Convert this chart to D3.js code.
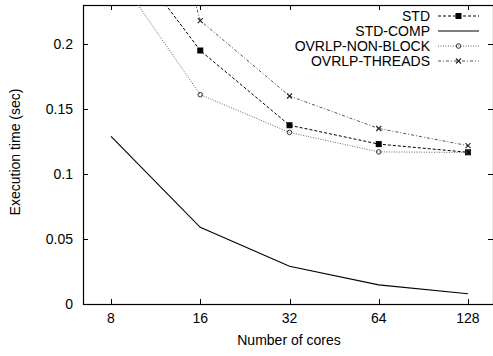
<!DOCTYPE html>
<html lang="en">
<head>
<meta charset="UTF-8">
<title>Execution time vs cores</title>
<style>
  body { margin: 0; background: #fff; }
  svg { display: block; font-family: "Liberation Sans", Arial, sans-serif; }
</style>
</head>
<body>
<div id="chart"></div>
<script src="https://d3js.org/d3.v7.min.js"></script>
<script>
// data
const cores = [8, 16, 32, 64, 128];
const stdVals = [0.286, 0.195, 0.1375, 0.123, 0.1167];
const stdCompVals = [0.129, 0.059, 0.029, 0.0147, 0.0079];
const nonBlockVals = [0.26, 0.161, 0.132, 0.117, 0.1166];
const threadsVals = [0.457, 0.218, 0.160, 0.135, 0.1218];
const yTicks = [0, 0.05, 0.1, 0.15, 0.2];
const yTickLabels = ["0", "0.05", "0.1", "0.15", "0.2"];

const series = [
  { name: "STD", values: stdVals, color: "#000", dash: "3,2", width: 1, marker: "square" },
  { name: "STD-COMP", values: stdCompVals, color: "#000", dash: null, width: 1.1, marker: null },
  { name: "OVRLP-NON-BLOCK", values: nonBlockVals, color: "#666", dash: "1,1.5", width: 1, marker: "circle" },
  { name: "OVRLP-THREADS", values: threadsVals, color: "#555", dash: "3,2,1,2", width: 1, marker: "cross" }
];

const width = 493, height = 356;
const plot = { left: 83, right: 493, top: 5, bottom: 304 };
const fontSize = 14;

const svg = d3.select("#chart").append("svg")
    .attr("width", width)
    .attr("height", height);

// x is log2, 89.2px per octave, 8 sits at x=111
const x = d3.scaleLog().base(2)
    .domain([Math.pow(2, 3 - 28 / 89.2), Math.pow(2, 7 + 25 / 89.2)])
    .range([plot.left, plot.right]);

const y = d3.scaleLinear()
    .domain([0, 0.23])
    .range([plot.bottom, plot.top]);

svg.append("clipPath").attr("id", "clip")
  .append("rect")
    .attr("x", plot.left).attr("y", plot.top)
    .attr("width", plot.right - plot.left).attr("height", plot.bottom - plot.top);

// ticks (inward, mirrored)
const tickLen = 5;
const ticks = svg.append("g").attr("stroke", "#000").attr("stroke-width", 1);
yTicks.forEach(v => {
  const yy = Math.round(y(v)) + 0.5;
  ticks.append("line").attr("x1", plot.left).attr("x2", plot.left + tickLen).attr("y1", yy).attr("y2", yy);
  ticks.append("line").attr("x1", plot.right - tickLen).attr("x2", plot.right).attr("y1", yy).attr("y2", yy);
});
cores.forEach(c => {
  const xx = Math.round(x(c)) + 0.5;
  ticks.append("line").attr("x1", xx).attr("x2", xx).attr("y1", plot.bottom).attr("y2", plot.bottom - tickLen);
  ticks.append("line").attr("x1", xx).attr("x2", xx).attr("y1", plot.top).attr("y2", plot.top + tickLen);
});

// border
svg.append("rect")
    .attr("x", plot.left + 0.5).attr("y", plot.top + 0.5)
    .attr("width", plot.right - plot.left).attr("height", plot.bottom - plot.top)
    .attr("fill", "none").attr("stroke", "#000").attr("stroke-width", 1.2);

// tick labels
svg.append("g").selectAll("text")
  .data(yTicks)
  .enter().append("text")
    .attr("x", plot.left - 10)
    .attr("y", d => y(d))
    .attr("dy", "0.35em")
    .attr("text-anchor", "end")
    .attr("font-size", fontSize)
    .text((d, i) => yTickLabels[i]);

svg.append("g").selectAll("text")
  .data(cores)
  .enter().append("text")
    .attr("x", d => x(d))
    .attr("y", plot.bottom + 19)
    .attr("text-anchor", "middle")
    .attr("font-size", fontSize)
    .text(d => d);

// axis titles
svg.append("text")
    .attr("x", 289).attr("y", 345)
    .attr("text-anchor", "middle")
    .attr("font-size", fontSize)
    .text("Number of cores");

svg.append("text")
    .attr("transform", "translate(20,152) rotate(-90)")
    .attr("text-anchor", "middle")
    .attr("font-size", fontSize)
    .text("Execution time (sec)");

// series
const line = d3.line()
    .x((d, i) => x(cores[i]))
    .y(d => y(d));

const plotArea = svg.append("g").attr("clip-path", "url(#clip)");

function drawMarker(g, kind, cx, cy) {
  if (kind === "square") {
    g.append("rect").attr("x", cx - 3).attr("y", cy - 3).attr("width", 6).attr("height", 6).attr("fill", "#000");
  } else if (kind === "circle") {
    g.append("circle").attr("cx", cx).attr("cy", cy).attr("r", 2.3)
      .attr("fill", "none").attr("stroke", "#333").attr("stroke-width", 1);
  } else if (kind === "cross") {
    g.append("path").attr("d", `M${cx - 2.5},${cy - 2.5}L${cx + 2.5},${cy + 2.5}M${cx - 2.5},${cy + 2.5}L${cx + 2.5},${cy - 2.5}`)
      .attr("stroke", "#222").attr("stroke-width", 1.1);
  }
}

series.forEach(s => {
  plotArea.append("path")
      .datum(s.values)
      .attr("d", line)
      .attr("fill", "none")
      .attr("stroke", s.color)
      .attr("stroke-width", s.width)
      .attr("stroke-dasharray", s.dash);
  if (s.marker) {
    const mg = plotArea.append("g");
    s.values.forEach((v, i) => drawMarker(mg, s.marker, x(cores[i]), y(v)));
  }
});

// legend
const legend = svg.append("g");
series.forEach((s, i) => {
  const ly = 16 + i * 15;
  legend.append("text")
      .attr("x", 430).attr("y", ly)
      .attr("dy", "0.35em")
      .attr("text-anchor", "end")
      .attr("font-size", fontSize)
      .text(s.name);
  legend.append("line")
      .attr("x1", 438).attr("x2", 479).attr("y1", ly).attr("y2", ly)
      .attr("stroke", s.color)
      .attr("stroke-width", s.width)
      .attr("stroke-dasharray", s.dash);
  if (s.marker) drawMarker(legend, s.marker, 458.5, ly);
});
</script>
</body>
</html>
